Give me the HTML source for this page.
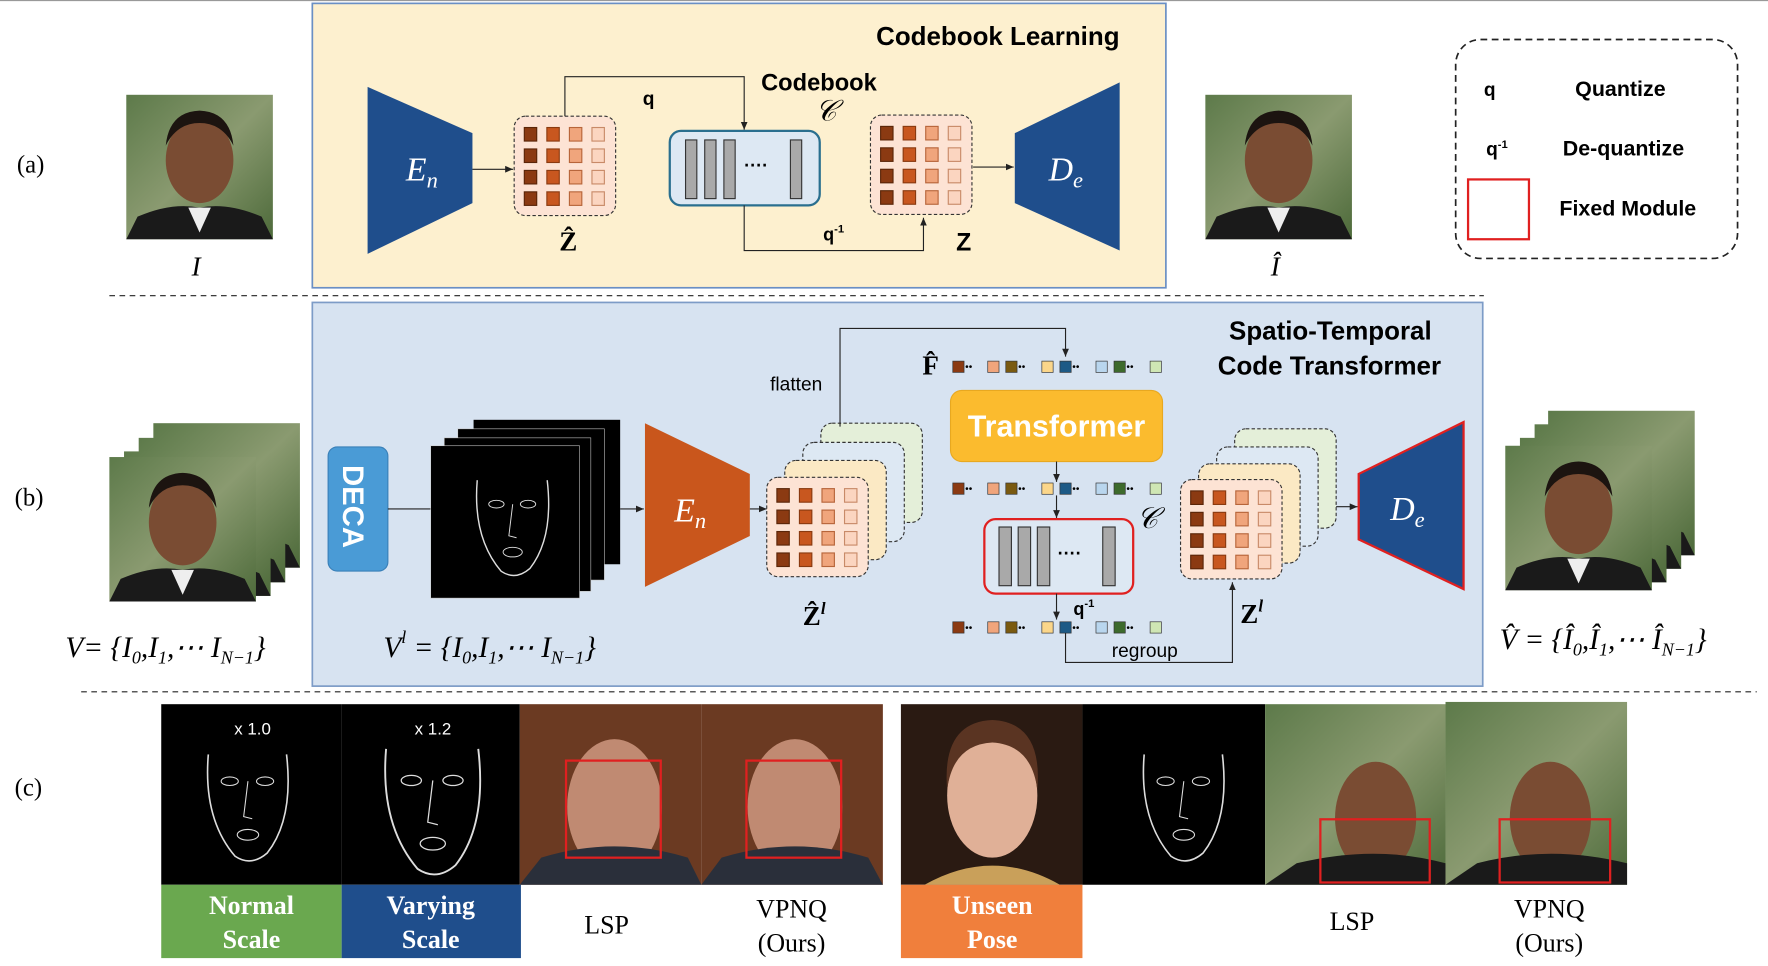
<!DOCTYPE html>
<html><head><meta charset="utf-8"><style>
html,body{margin:0;padding:0;background:#fff;}
svg{display:block;}
text{font-family:"Liberation Sans",sans-serif;}
.sf{font-family:"Liberation Serif",serif;}
</style></head><body>
<svg width="1768" height="966" viewBox="0 0 1568 856" preserveAspectRatio="none" xmlns="http://www.w3.org/2000/svg">
<defs>
<marker id="ar" markerWidth="8" markerHeight="8" refX="7" refY="4" orient="auto"><path d="M0,1 L7,4 L0,7z" fill="#222"/></marker>
<g id="grid">
<rect x="0" y="0" width="90" height="88" rx="10" fill="#fde3d4" stroke="#333" stroke-dasharray="3,2"/>
<g id="row"><rect x="9" y="10" width="11" height="12" fill="#8b3a12" stroke="#5a2508"/><rect x="29" y="10" width="11" height="12" fill="#c8571f" stroke="#8a3a10"/><rect x="49" y="10" width="11" height="12" fill="#f0a57c" stroke="#b7653a"/><rect x="69" y="10" width="11" height="12" fill="#fbd5c0" stroke="#c88a68"/></g>
<use href="#row" y="19"/><use href="#row" y="38"/><use href="#row" y="57"/>
</g>
<g id="gridB"><rect x="0" y="0" width="90" height="88" rx="10" fill="#fbe9c4" stroke="#333" stroke-dasharray="3,2"/></g>
<g id="gridC"><rect x="0" y="0" width="90" height="88" rx="10" fill="#dde8f3" stroke="#333" stroke-dasharray="3,2"/></g>
<g id="gridD"><rect x="0" y="0" width="90" height="88" rx="10" fill="#e4efd9" stroke="#333" stroke-dasharray="3,2"/></g>
<g id="tok">
<rect x="0" y="-5" width="10" height="10" fill="#8b3a12" stroke="#333" stroke-width=".6"/><text x="11" y="3" font-size="9">••</text>
<rect x="31" y="-5" width="10" height="10" fill="#f0a57c" stroke="#333" stroke-width=".6"/>
<rect x="47" y="-5" width="10" height="10" fill="#7a5a10" stroke="#333" stroke-width=".6"/><text x="58" y="3" font-size="9">••</text>
<rect x="79" y="-5" width="10" height="10" fill="#fbd68a" stroke="#333" stroke-width=".6"/>
<rect x="95" y="-5" width="10" height="10" fill="#1d5a86" stroke="#333" stroke-width=".6"/><text x="106" y="3" font-size="9">••</text>
<rect x="127" y="-5" width="10" height="10" fill="#b9d6ee" stroke="#333" stroke-width=".6"/>
<rect x="143" y="-5" width="10" height="10" fill="#3d6a2c" stroke="#333" stroke-width=".6"/><text x="154" y="3" font-size="9">••</text>
<rect x="175" y="-5" width="10" height="10" fill="#cfe6b4" stroke="#333" stroke-width=".6"/>
</g>
<linearGradient id="bg1" x1="0" y1="0" x2="1" y2="1"><stop offset="0" stop-color="#5d7a4a"/><stop offset=".5" stop-color="#8a9a70"/><stop offset="1" stop-color="#4d6a3a"/></linearGradient>
<g id="face">
<rect width="130" height="128" fill="url(#bg1)"/>
<path d="M0,128 L10,108 Q40,95 65,100 Q90,95 120,108 L130,128z" fill="#1a1a1a"/>
<path d="M55,100 L65,122 L75,100z" fill="#eee"/>
<ellipse cx="65" cy="58" rx="30" ry="38" fill="#7a4c33"/>
<path d="M35,45 Q38,15 65,14 Q92,15 95,45 Q85,25 65,25 Q45,25 35,45z" fill="#1c1410"/>
</g>
<g id="sk">
<path d="M45,30 Q40,90 70,125 Q85,135 100,122 Q125,90 118,30" fill="none" stroke="#ddd" stroke-width="1.5"/>
<ellipse cx="65" cy="55" rx="8" ry="4" fill="none" stroke="#ddd"/><ellipse cx="98" cy="55" rx="8" ry="4" fill="none" stroke="#ddd"/>
<path d="M82,55 L78,88 L86,90" fill="none" stroke="#ddd"/><ellipse cx="82" cy="105" rx="10" ry="5" fill="none" stroke="#ddd"/>
</g>
</defs>
<rect width="1568" height="856" fill="#fff"/>
<line x1="0" y1="0.5" x2="1568" y2="0.5" stroke="#999"/>

<!-- (a) -->
<text x="15" y="153" class="sf" font-size="22">(a)</text>
<use href="#face" x="112" y="84"/>
<text x="170" y="244" class="sf" font-size="24" font-style="italic">I</text>
<rect x="277" y="3" width="757" height="252" fill="#fdf0cf" stroke="#6a8fc4" stroke-width="1.5"/>
<text x="777" y="40" font-size="23" font-weight="bold">Codebook Learning</text>
<path d="M326,77 L419,118 L419,180 L326,225z" fill="#1f4e8c"/>
<text x="360" y="160" class="sf" font-size="30" fill="#fff" font-style="italic">E<tspan font-size="20" dy="6">n</tspan></text>
<line x1="419" y1="150" x2="455" y2="150" stroke="#222" marker-end="url(#ar)"/>
<use href="#grid" x="456" y="103"/>
<text x="496" y="222" class="sf" font-size="24" font-weight="bold">Ẑ</text>
<path d="M501,103 V68 H660 V115" fill="none" stroke="#222" marker-end="url(#ar)"/>
<text x="570" y="93" font-size="17" font-weight="bold">q</text>
<text x="675" y="80" font-size="21" font-weight="bold">Codebook</text>
<text x="723" y="107" class="sf" font-size="26" font-style="italic">𝒞</text>
<rect x="594" y="116" width="133" height="66" rx="10" fill="#dde8f3" stroke="#2a6f8f" stroke-width="2"/>
<g fill="#a9a9a9" stroke="#333"><rect x="608" y="124" width="10" height="52"/><rect x="625" y="124" width="10" height="52"/><rect x="642" y="124" width="10" height="52"/><rect x="701" y="124" width="10" height="52"/></g>
<text x="660" y="152" font-size="16" font-weight="bold">····</text>
<path d="M660,182 V222 H819 V193" fill="none" stroke="#222" marker-end="url(#ar)"/>
<text x="730" y="213" font-size="16" font-weight="bold">q<tspan font-size="10" dy="-7">-1</tspan></text>
<use href="#grid" x="772" y="102"/>
<text x="848" y="222" font-size="22" font-weight="bold">Z</text>
<line x1="863" y1="148" x2="899" y2="148" stroke="#222" marker-end="url(#ar)"/>
<path d="M900,118 L993,73 L993,222 L900,180z" fill="#1f4e8c"/>
<text x="930" y="160" class="sf" font-size="30" fill="#fff" font-style="italic">D<tspan font-size="20" dy="6">e</tspan></text>
<use href="#face" x="1069" y="84"/>
<text x="1127" y="244" class="sf" font-size="24" font-style="italic">Î</text>
<rect x="1291" y="35" width="250" height="194" rx="22" fill="none" stroke="#222" stroke-width="1.5" stroke-dasharray="6,4"/>
<text x="1316" y="85" font-size="17" font-weight="bold">q</text>
<text x="1397" y="85" font-size="19" font-weight="bold">Quantize</text>
<text x="1318" y="138" font-size="17" font-weight="bold">q<tspan font-size="10" dy="-7">-1</tspan></text>
<text x="1386" y="138" font-size="19" font-weight="bold">De-quantize</text>
<rect x="1302" y="159" width="54" height="53" fill="none" stroke="#e02020" stroke-width="2"/>
<text x="1383" y="191" font-size="19" font-weight="bold">Fixed Module</text>
<line x1="97" y1="262" x2="1316" y2="262" stroke="#222" stroke-dasharray="5,4"/>

<!-- (b) -->
<text x="13" y="448" class="sf" font-size="22">(b)</text>
<rect x="277" y="268" width="1038" height="340" fill="#d7e3f1" stroke="#7d9cc7" stroke-width="1.5"/>
<use href="#face" x="136" y="375"/><use href="#face" x="123" y="388"/><use href="#face" x="110" y="400"/><use href="#face" x="97" y="405"/>
<text x="58" y="582" class="sf" font-size="26" font-style="italic">V= {I<tspan font-size="16" dy="6">0</tspan><tspan dy="-6">,I</tspan><tspan font-size="16" dy="6">1</tspan><tspan dy="-6">,⋯ I</tspan><tspan font-size="16" dy="6">N−1</tspan><tspan dy="-6">}</tspan></text>
<rect x="291" y="396" width="53" height="110" rx="8" fill="#4a9bd6" stroke="#3a80b8"/>
<text x="0" y="0" transform="translate(304,412) rotate(90)" font-size="26" font-weight="bold" fill="#fff">DECA</text>
<line x1="344" y1="451" x2="382" y2="451" stroke="#222"/>
<rect x="420" y="372" width="130" height="128" fill="#000"/><rect x="406" y="380" width="130" height="134" fill="#000" stroke="#ccc" stroke-width=".5"/><rect x="394" y="388" width="130" height="136" fill="#000" stroke="#ccc" stroke-width=".5"/>
<rect x="382" y="395" width="132" height="135" fill="#000" stroke="#ccc" stroke-width=".5"/>
<use href="#sk" transform="translate(385,400) scale(0.85)"/>
<text x="340" y="582" class="sf" font-size="26" font-style="italic">V<tspan font-size="16" dy="-12">l</tspan><tspan dy="12"> = {I</tspan><tspan font-size="16" dy="6">0</tspan><tspan dy="-6">,I</tspan><tspan font-size="16" dy="6">1</tspan><tspan dy="-6">,⋯ I</tspan><tspan font-size="16" dy="6">N−1</tspan><tspan dy="-6">}</tspan></text>
<line x1="550" y1="451" x2="571" y2="451" stroke="#222" marker-end="url(#ar)"/>
<path d="M572,375 L665,420 L665,475 L572,520z" fill="#c9561c"/>
<text x="598" y="462" class="sf" font-size="30" fill="#fff" font-style="italic">E<tspan font-size="20" dy="6">n</tspan></text>
<line x1="665" y1="451" x2="680" y2="451" stroke="#222" marker-end="url(#ar)"/>
<use href="#gridD" x="728" y="375"/><use href="#gridC" x="712" y="392"/><use href="#gridB" x="696" y="408"/><use href="#grid" x="680" y="423"/>
<text x="712" y="554" class="sf" font-size="24" font-weight="bold">Ẑ<tspan font-size="15" dy="-10" font-style="italic">l</tspan></text>
<text x="683" y="346" font-size="17">flatten</text>
<path d="M745,378 V291 H945 V316" fill="none" stroke="#222" marker-end="url(#ar)"/>
<text x="818" y="332" class="sf" font-size="24" font-weight="bold">F̂</text>
<use href="#tok" x="845" y="325"/>
<text x="1090" y="301" font-size="23" font-weight="bold">Spatio-Temporal</text>
<text x="1080" y="332" font-size="23" font-weight="bold">Code Transformer</text>
<rect x="843" y="346" width="188" height="63" rx="10" fill="#fbbb2e" stroke="#e8a820"/>
<text x="937" y="387" font-size="27" font-weight="bold" fill="#fff" text-anchor="middle">Transformer</text>
<line x1="937" y1="409" x2="937" y2="427" stroke="#222" marker-end="url(#ar)"/>
<use href="#tok" x="845" y="433"/>
<line x1="937" y1="439" x2="937" y2="459" stroke="#222" marker-end="url(#ar)"/>
<rect x="873" y="460" width="132" height="66" rx="10" fill="#dde8f3" stroke="#e02020" stroke-width="2"/>
<g fill="#a9a9a9" stroke="#333"><rect x="886" y="467" width="11" height="52"/><rect x="903" y="467" width="11" height="52"/><rect x="920" y="467" width="11" height="52"/><rect x="978" y="467" width="11" height="52"/></g>
<text x="938" y="496" font-size="16" font-weight="bold">····</text>
<text x="1008" y="468" class="sf" font-size="26" font-style="italic">𝒞</text>
<line x1="937" y1="526" x2="937" y2="549" stroke="#222" marker-end="url(#ar)"/>
<text x="952" y="545" font-size="16" font-weight="bold">q<tspan font-size="10" dy="-7">-1</tspan></text>
<use href="#tok" x="845" y="556"/>
<path d="M945,561 V587 H1093 V516" fill="none" stroke="#222" marker-end="url(#ar)"/>
<text x="986" y="582" font-size="17">regroup</text>
<use href="#gridD" x="1095" y="380"/><use href="#gridC" x="1079" y="396"/><use href="#gridB" x="1063" y="411"/><use href="#grid" x="1047" y="425"/>
<text x="1100" y="552" class="sf" font-size="24" font-weight="bold">Z<tspan font-size="15" dy="-10" font-style="italic">l</tspan></text>
<line x1="1185" y1="449" x2="1204" y2="449" stroke="#222" marker-end="url(#ar)"/>
<path d="M1205,420 L1298,374 L1298,522 L1205,478z" fill="#1f4e8c" stroke="#e02020" stroke-width="2"/>
<text x="1233" y="461" class="sf" font-size="30" fill="#fff" font-style="italic">D<tspan font-size="20" dy="6">e</tspan></text>
<use href="#face" x="1373" y="364"/><use href="#face" x="1361" y="376"/><use href="#face" x="1348" y="388"/><use href="#face" x="1335" y="395"/>
<text x="1330" y="575" class="sf" font-size="26" font-style="italic">V̂ = {Î<tspan font-size="16" dy="6">0</tspan><tspan dy="-6">,Î</tspan><tspan font-size="16" dy="6">1</tspan><tspan dy="-6">,⋯ Î</tspan><tspan font-size="16" dy="6">N−1</tspan><tspan dy="-6">}</tspan></text>
<line x1="72" y1="613" x2="1558" y2="613" stroke="#222" stroke-dasharray="5,4"/>

<!-- (c) -->
<text x="13" y="705" class="sf" font-size="22">(c)</text>
<rect x="143" y="624" width="160" height="160" fill="#000"/>
<use href="#sk" transform="translate(142,640) scale(0.95)"/>
<text x="224" y="651" font-size="15" fill="#fff" text-anchor="middle">x 1.0</text>
<rect x="303" y="624" width="158" height="160" fill="#000"/>
<use href="#sk" transform="translate(292,630) scale(1.12)"/>
<text x="384" y="651" font-size="15" fill="#fff" text-anchor="middle">x 1.2</text>
<rect x="461" y="624" width="161" height="160" fill="#6b3a22"/>
<ellipse cx="545" cy="715" rx="42" ry="60" fill="#c08a72"/><path d="M461,784 L480,760 Q545,740 610,760 L622,784z" fill="#2a2f3a"/>
<rect x="502" y="674" width="84" height="86" fill="none" stroke="#e02020" stroke-width="2"/>
<rect x="622" y="624" width="161" height="160" fill="#6b3a22"/>
<ellipse cx="705" cy="715" rx="42" ry="60" fill="#c08a72"/><path d="M622,784 L640,760 Q705,740 770,760 L783,784z" fill="#2a2f3a"/>
<rect x="662" y="674" width="84" height="86" fill="none" stroke="#e02020" stroke-width="2"/>
<rect x="143" y="784" width="160" height="65" fill="#6aa84f"/>
<text x="223" y="810" class="sf" font-size="23" font-weight="bold" fill="#fff" text-anchor="middle">Normal</text>
<text x="223" y="840" class="sf" font-size="23" font-weight="bold" fill="#fff" text-anchor="middle">Scale</text>
<rect x="303" y="784" width="159" height="65" fill="#1f4e8c"/>
<text x="382" y="810" class="sf" font-size="23" font-weight="bold" fill="#fff" text-anchor="middle">Varying</text>
<text x="382" y="840" class="sf" font-size="23" font-weight="bold" fill="#fff" text-anchor="middle">Scale</text>
<text x="538" y="827" class="sf" font-size="23" text-anchor="middle">LSP</text>
<text x="702" y="813" class="sf" font-size="23" text-anchor="middle">VPNQ</text>
<text x="702" y="843" class="sf" font-size="23" text-anchor="middle">(Ours)</text>
<rect x="799" y="624" width="161" height="160" fill="#2a1a12"/>
<ellipse cx="880" cy="705" rx="40" ry="55" fill="#e0b097"/><path d="M840,700 Q835,640 880,638 Q925,640 920,700 Q915,660 880,658 Q845,660 840,700z" fill="#5a3422"/>
<path d="M820,784 Q880,750 940,784z" fill="#c9a05a"/>
<rect x="960" y="624" width="162" height="160" fill="#000"/>
<use href="#sk" transform="translate(972,640) scale(0.95)"/>
<rect x="1122" y="624" width="160" height="160" fill="url(#bg1)"/>
<ellipse cx="1220" cy="725" rx="36" ry="50" fill="#7a4c33"/><path d="M1122,784 L1150,765 Q1220,748 1282,765 L1282,784z" fill="#1a1a1a"/>
<rect x="1171" y="726" width="97" height="56" fill="none" stroke="#e02020" stroke-width="2"/>
<rect x="1282" y="622" width="161" height="162" fill="url(#bg1)"/>
<ellipse cx="1375" cy="725" rx="36" ry="50" fill="#7a4c33"/><path d="M1282,784 L1310,765 Q1375,748 1443,765 L1443,784z" fill="#1a1a1a"/>
<rect x="1330" y="726" width="98" height="56" fill="none" stroke="#e02020" stroke-width="2"/>
<rect x="799" y="784" width="161" height="65" fill="#f07f3c"/>
<text x="880" y="810" class="sf" font-size="23" font-weight="bold" fill="#fff" text-anchor="middle">Unseen</text>
<text x="880" y="840" class="sf" font-size="23" font-weight="bold" fill="#fff" text-anchor="middle">Pose</text>
<text x="1199" y="824" class="sf" font-size="23" text-anchor="middle">LSP</text>
<text x="1374" y="813" class="sf" font-size="23" text-anchor="middle">VPNQ</text>
<text x="1374" y="843" class="sf" font-size="23" text-anchor="middle">(Ours)</text>
</svg>
</body></html>
